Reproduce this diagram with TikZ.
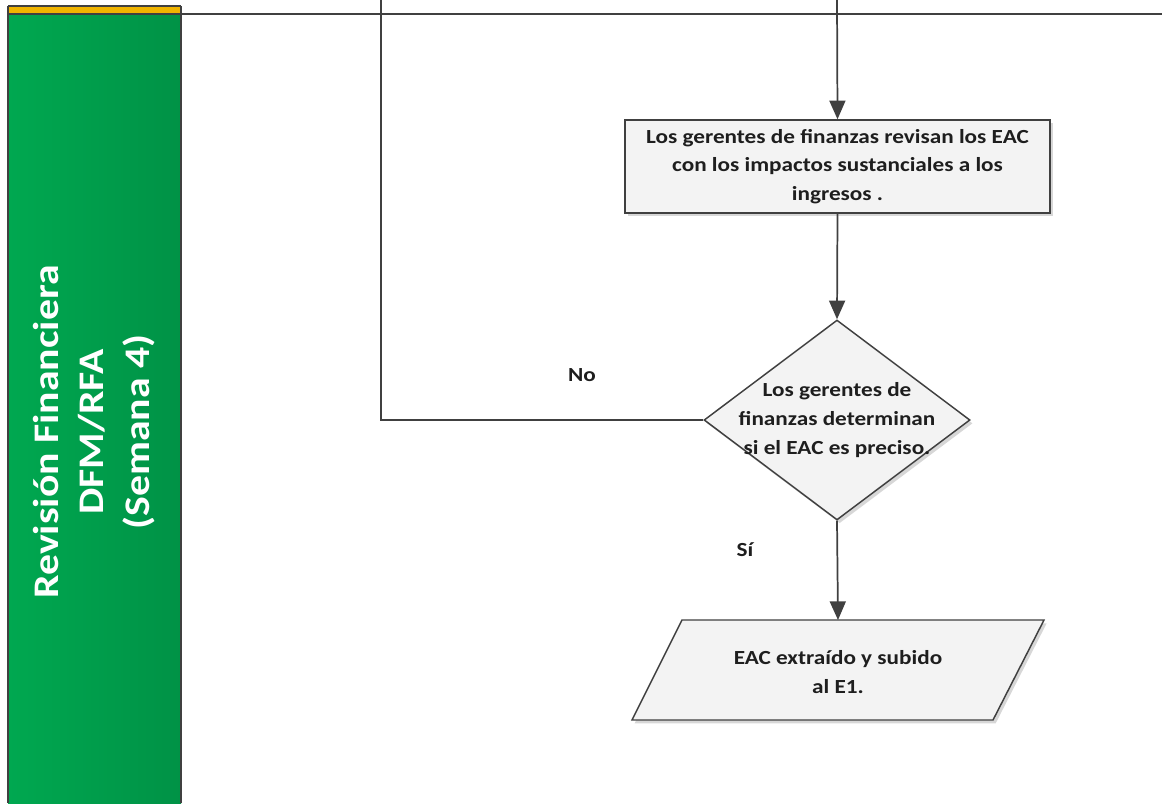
\documentclass[tikz,border=0pt]{standalone}
\usepackage{fontspec}
\setmainfont{Carlito}
\newfontfamily\widefont[FakeStretch=1.16]{Carlito}
\usetikzlibrary{arrows.meta,shapes.geometric,shadows}
\definecolor{lanegreenA}{RGB}{0,168,80}
\definecolor{lanegreenB}{RGB}{0,146,70}
\definecolor{laneyellow}{RGB}{240,180,0}
\definecolor{linegray}{RGB}{64,64,64}
\definecolor{boxfill}{RGB}{243,243,243}
\definecolor{txt}{RGB}{30,30,30}
\tikzset{
  conn/.style={draw=linegray, line width=1.3pt},
  arr/.style={conn, -{Triangle[width=12pt,length=14pt]}},
  shapebox/.style={draw=linegray, line width=1.1pt, fill=boxfill,
    drop shadow={shadow xshift=2pt, shadow yshift=-2.5pt, opacity=0.45, fill=gray!70}},
  boxtext/.style={text=txt, font=\widefont\bfseries\fontsize{15pt}{21.5pt}\selectfont, align=center},
  lbl/.style={text=txt, font=\widefont\bfseries\fontsize{15pt}{17pt}\selectfont},
}
\begin{document}
\begin{tikzpicture}[x=0.75pt,y=-0.75pt]
\useasboundingbox (0,0) rectangle (1162,803);
% lane header
\shade[left color=lanegreenA, right color=lanegreenB] (8,14) rectangle (181,803);
\fill[laneyellow] (8,6) rectangle (181,14);
\draw[linegray, line width=1.1pt] (8,6) -- (8,803);
\draw[linegray, line width=1.1pt] (181,6) -- (181,803);
\draw[linegray, line width=1.1pt] (8,6) -- (181,6);
\draw[linegray, line width=1.1pt] (8,14) -- (1162,14);
\node[rotate=90, text=white, align=center,
  font=\widefont\bfseries\fontsize{27pt}{34pt}\selectfont] (lane) at (94,432)
  {Revisión Financiera\\DFM/RFA\\(Semana 4)};
% top entry points
\coordinate (inA) at (837,0);
\coordinate (inB) at (381,0);
% process box
\node[shapebox, rectangle, minimum width=425*0.75pt, minimum height=93*0.75pt, inner sep=0pt] (rev) at (837.5,166.5) {};
\node[boxtext] (revt) at (rev.center)
  {Los gerentes de finanzas revisan los EAC\\con los impactos sustanciales a los\\ingresos .};
% decision
\node[shapebox, diamond, minimum width=266*0.75pt, minimum height=200*0.75pt, inner sep=0pt] (dec) at (837,420) {};
\node[boxtext] (dect) at (dec.center)
  {Los gerentes de\\finanzas determinan\\si el EAC es preciso.};
% output parallelogram
\path[shapebox] (682,620) -- (1044,620) -- (993,720) -- (632,720) -- cycle;
\coordinate (outtop) at (838,620);
\node[boxtext] (out) at (838,672) {EAC extraído y subido\\al E1.};
% connectors
\draw[arr] (inA) -- (rev.north);
\draw[arr] (rev.south) -- (dec.north);
\draw[arr] (dec.south) -- (outtop);
\draw[conn] (dec.west) -- (381,420) -- (inB);
% labels
\node[lbl] (no) at (582,375) {No};
\node[lbl] (si) at (745,550) {Sí};
\end{tikzpicture}
\end{document}
